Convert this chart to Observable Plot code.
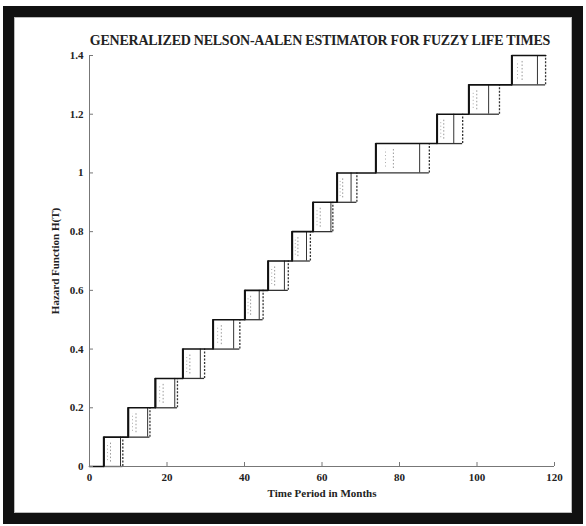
<!DOCTYPE html>
<html><head><meta charset="utf-8">
<script src="https://cdn.jsdelivr.net/npm/d3@7"></script>
<script src="https://cdn.jsdelivr.net/npm/@observablehq/plot@0.6"></script>
<style>
body{margin:0;background:#fff;}
#wrap{position:relative;width:586px;height:526px;overflow:hidden;background:#fff;}
#frame{position:absolute;left:3px;top:6px;width:558px;height:496px;border:11px solid #111;box-shadow:inset 0 0 0 1px #bbb;}
#chart{position:absolute;left:0;top:0;}
#title{position:absolute;left:60px;width:520px;top:33px;text-align:center;font:bold 14px "Liberation Serif";color:#222;letter-spacing:-0.25px;}
</style></head>
<body>
<div id="wrap"><div id="frame"></div><div id="chart"></div>
<div id="title">GENERALIZED NELSON-AALEN ESTIMATOR FOR FUZZY LIFE TIMES</div></div>
<script>
// Hazard levels reached at each step
const levels = [0.1, 0.2, 0.3, 0.4, 0.5, 0.6, 0.7, 0.8, 0.9, 1.0, 1.1, 1.2, 1.3, 1.4];
// Left edge of each fuzzy step (months)
const stepLeft = [3.7, 10.0, 17.0, 24.1, 31.9, 40.1, 46.1, 52.3, 57.7, 63.9, 73.9, 89.7, 97.9, 109.0];
// Inner (solid) alpha-cut line of each step (months)
const stepInner = [8.0, 15.0, 22.0, 28.6, 37.2, 43.8, 50.3, 56.0, 62.3, 67.5, 85.2, 94.0, 103.0, 115.6];
// Right (dashed) edge of each fuzzy step (months)
const stepRight = [8.6, 15.6, 22.7, 29.7, 38.8, 44.8, 51.3, 57.0, 62.8, 69.0, 87.7, 96.3, 105.8, 117.7];
const xTicks = [0, 20, 40, 60, 80, 100, 120];
const yTicks = [0, 0.2, 0.4, 0.6, 0.8, 1, 1.2, 1.4];

const boxes = stepLeft.map((l, i) => ({
  l, m: stepInner[i], r: stepRight[i],
  lo: i === 0 ? 0 : levels[i - 1], hi: levels[i]
}));
const path = [{x: 0, y: 0}, ...boxes.map(b => ({x: b.l, y: b.hi})),
  {x: stepRight[stepRight.length - 1], y: levels[levels.length - 1]}];

const chart = Plot.plot({
  width: 586, height: 526,
  marginLeft: 89, marginRight: 32, marginTop: 55, marginBottom: 60,
  style: {fontFamily: "Liberation Serif", fontSize: "11px", fontWeight: "bold", color: "#222", background: "transparent"},
  x: {domain: [0, 120]},
  y: {domain: [0, 1.4]},
  marks: [
    // fuzzy box interiors (alpha-cut scribbles)
    Plot.ruleX(boxes, {x: b => b.l + (b.m - b.l) * 0.4, y1: b => b.lo + 0.015, y2: b => b.hi - 0.015, stroke: "#999", strokeDasharray: "1.5,2"}),
    Plot.ruleX(boxes, {x: b => b.l + (b.m - b.l) * 0.22, y1: b => b.lo + 0.02, y2: b => b.hi - 0.02, stroke: "#aaa", strokeDasharray: "1,2.5"}),
    Plot.ruleX(boxes, {x: "m", y1: "lo", y2: "hi", stroke: "#333", strokeWidth: 1}),
    Plot.ruleX(boxes, {x: "r", y1: "lo", y2: "hi", stroke: "#333", strokeWidth: 1.3, strokeDasharray: "2,1.5"}),
    Plot.ruleY(boxes, {y: "lo", x1: "l", x2: "r", stroke: "#333", strokeWidth: 1.3}),
    // axis lines
    Plot.ruleX([0], {stroke: "#777"}),
    Plot.ruleY([0], {stroke: "#777", x1: 0, x2: 120}),
    // step function
    Plot.line(path, {x: "x", y: "y", curve: "step-after", stroke: "#111", strokeWidth: 1.6}),
    Plot.ruleX(boxes, {x: "l", y1: "lo", y2: "hi", stroke: "#111", strokeWidth: 2}),
    Plot.axisX({ticks: xTicks, tickSize: -4, tickPadding: 11, stroke: "#777", tickFormat: d => String(d), fontSize: 11,
      label: "Time Period in Months", labelAnchor: "center", labelOffset: 30, labelArrow: "none"}),
    Plot.axisY({ticks: yTicks, tickSize: -4, tickPadding: 10, stroke: "#777", tickFormat: d => String(d), fontSize: 11,
      label: "Hazard Function H(T)", labelAnchor: "center", labelOffset: 38, labelArrow: "none"})
  ]
});
document.getElementById("chart").appendChild(chart);
</script>
</body></html>
